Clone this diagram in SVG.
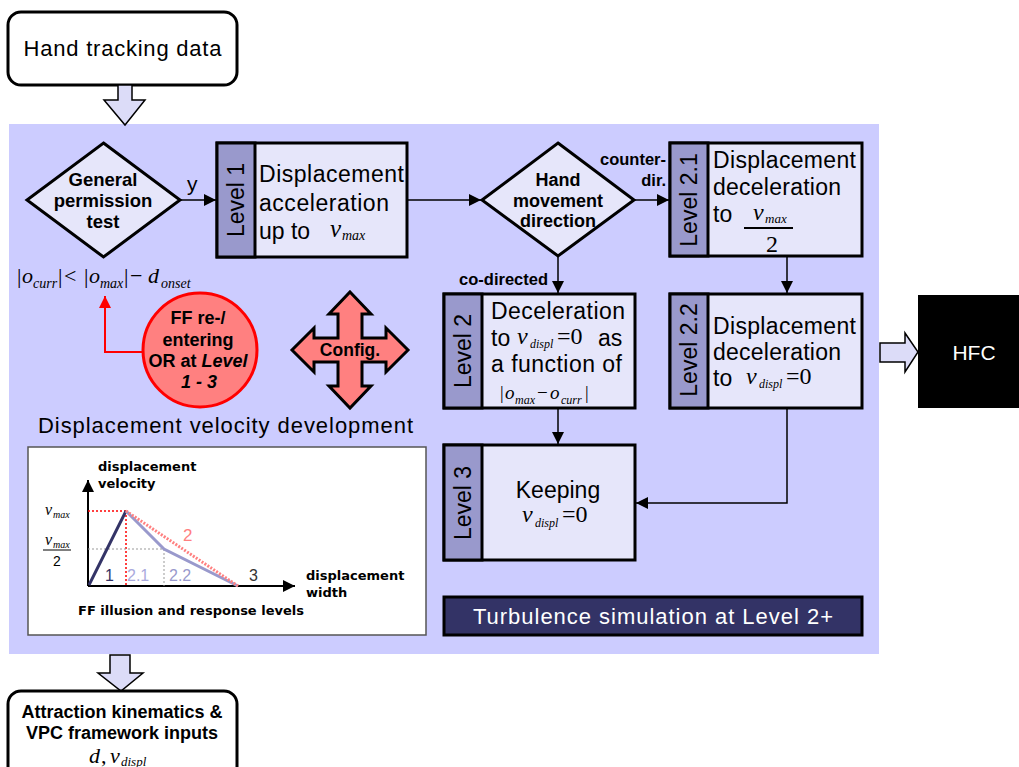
<svg xmlns="http://www.w3.org/2000/svg" width="1019" height="767" viewBox="0 0 1019 767">
<style>
.sans{font-family:"Liberation Sans",Arial,sans-serif;fill:#000}
.b{font-weight:bold}
.m{font-family:"Liberation Serif","Times New Roman",serif;font-style:italic;fill:#000}
.mu{font-family:"Liberation Serif","Times New Roman",serif;font-style:normal;fill:#000}
.box{fill:#e6e6fa;stroke:#000;stroke-width:3}
.side{fill:#9999cc;stroke:#000;stroke-width:3}
.conn{fill:none;stroke:#000;stroke-width:1.5}
.hollow{fill:#dcdcf8;stroke:#000;stroke-width:1.5}
.vv{font-family:"DejaVu Sans",Verdana,sans-serif;font-weight:bold;font-size:13px;fill:#000}
.w{fill:#fff}
</style>
<defs>
<marker id="ah" viewBox="0 0 10 10" refX="10" refY="5" markerWidth="14" markerHeight="12" markerUnits="userSpaceOnUse" orient="auto"><path d="M0,0 L10,5 L0,10 z" fill="#000"/></marker>
<marker id="ahr" viewBox="0 0 10 10" refX="10" refY="5" markerWidth="16" markerHeight="12" markerUnits="userSpaceOnUse" orient="auto"><path d="M0,0 L10,5 L0,10 z" fill="#ff0000"/></marker>
</defs>
<rect width="1019" height="767" fill="#fff"/>
<rect id="panel" x="9" y="124" width="870" height="530" fill="#ccccff"/>

<g id="handtracking">
<rect x="8" y="12" width="229" height="73" rx="13" fill="#fff" stroke="#000" stroke-width="3"/>
<text class="sans" x="122.5" y="56" font-size="22" text-anchor="middle" textLength="198">Hand tracking data</text>
</g>
<g id="arrow-in">
<path class="hollow" d="M118,85 H132 V100 H145 L125,125 L104,100 H118 Z"/>
</g>

<g id="permission">
<polygon class="box" points="103.5,143 180,200 103.5,257 27,200"/>
<text class="sans b" font-size="18.5" text-anchor="middle"><tspan x="103" y="186">General</tspan><tspan x="103" y="207">permission</tspan><tspan x="103" y="228">test</tspan></text>
</g>
<g id="onset-condition">
<text class="mu" font-size="22" x="17" y="283">|</text>
<text class="m" font-size="22" x="22" y="283">o</text>
<text class="m" font-size="14" x="33" y="288">curr</text>
<text class="mu" font-size="22" x="58" y="283">|</text>
<text class="mu" font-size="22" x="64" y="283">&lt;</text>
<text class="mu" font-size="22" x="84" y="283">|</text>
<text class="m" font-size="22" x="89" y="283">o</text>
<text class="m" font-size="14" x="100" y="288">max</text>
<text class="mu" font-size="22" x="124" y="283">|</text>
<text class="mu" font-size="22" x="130" y="283">−</text>
<text class="m" font-size="22" x="148" y="283">d</text>
<text class="m" font-size="14" x="161" y="288">onset</text>
</g>

<g id="level1">
<rect class="box" x="217" y="143" width="190" height="114"/>
<rect class="side" x="217" y="143" width="38" height="114"/>
<text class="sans" font-size="23" transform="translate(244,200) rotate(-90)" text-anchor="middle">Level 1</text>
<text class="sans" font-size="23" x="259" y="182" textLength="145">Displacement</text>
<text class="sans" font-size="23" x="259" y="211" textLength="130">acceleration</text>
<text class="sans" font-size="23" x="259" y="239">up to</text>
<text class="m" font-size="25" x="330" y="237">v</text>
<text class="m" font-size="14" x="342" y="240">max</text>
</g>

<g id="handdir">
<polygon class="box" points="558,143 634,200 558,256 482,200"/>
<text class="sans b" font-size="18" text-anchor="middle"><tspan x="558" y="186">Hand</tspan><tspan x="558" y="207">movement</tspan><tspan x="558" y="227">direction</tspan></text>
</g>

<g id="level21">
<rect class="box" x="670" y="143" width="192" height="113"/>
<rect class="side" x="670" y="143" width="38" height="113"/>
<text class="sans" font-size="23" transform="translate(697,200) rotate(-90)" text-anchor="middle">Level 2.1</text>
<text class="sans" font-size="23" x="713" y="168" textLength="143">Displacement</text>
<text class="sans" font-size="23" x="713" y="195" textLength="128">deceleration</text>
<text class="sans" font-size="23" x="713" y="222">to</text>
<text class="m" font-size="24" x="753" y="220">v</text>
<text class="m" font-size="13" x="765" y="223">max</text>
<line x1="744" y1="228" x2="793" y2="228" stroke="#000" stroke-width="2"/>
<text class="mu" font-size="24" x="772" y="252" text-anchor="middle">2</text>
</g>

<g id="level2">
<rect class="box" x="444" y="294" width="191" height="114"/>
<rect class="side" x="444" y="294" width="38" height="114"/>
<text class="sans" font-size="23" transform="translate(471,351) rotate(-90)" text-anchor="middle">Level 2</text>
<text class="sans" font-size="23" x="491" y="319" textLength="134">Deceleration</text>
<text class="sans" font-size="23" x="491" y="346">to</text>
<text class="m" font-size="24" x="517" y="344">v</text>
<text class="m" font-size="12" x="530" y="348">displ</text>
<text class="mu" font-size="24" x="557" y="344">=0</text>
<text class="sans" font-size="23" x="598" y="346">as</text>
<text class="sans" font-size="23" x="491" y="372" textLength="131">a function of</text>
<text class="mu" font-size="18" x="500" y="399">|</text>
<text class="m" font-size="19" x="505" y="399">o</text>
<text class="m" font-size="12" x="515" y="404">max</text>
<text class="mu" font-size="19" x="537" y="399">−</text>
<text class="m" font-size="19" x="550" y="399">o</text>
<text class="m" font-size="12" x="561" y="404">curr</text>
<text class="mu" font-size="18" x="585" y="399">|</text>
</g>

<g id="level22">
<rect class="box" x="670" y="294" width="192" height="114"/>
<rect class="side" x="670" y="294" width="38" height="114"/>
<text class="sans" font-size="23" transform="translate(697,350) rotate(-90)" text-anchor="middle">Level 2.2</text>
<text class="sans" font-size="23" x="713" y="334" textLength="143">Displacement</text>
<text class="sans" font-size="23" x="713" y="360" textLength="128">deceleration</text>
<text class="sans" font-size="23" x="713" y="386">to</text>
<text class="m" font-size="24" x="746" y="384">v</text>
<text class="m" font-size="12" x="759" y="388">displ</text>
<text class="mu" font-size="24" x="786" y="384">=0</text>
</g>

<g id="level3">
<rect class="box" x="444" y="445" width="191" height="115"/>
<rect class="side" x="444" y="445" width="38" height="115"/>
<text class="sans" font-size="23" transform="translate(471,503) rotate(-90)" text-anchor="middle">Level 3</text>
<text class="sans" font-size="23" x="558" y="498" text-anchor="middle">Keeping</text>
<text class="m" font-size="24" x="522" y="522">v</text>
<text class="m" font-size="12" x="535" y="527">displ</text>
<text class="mu" font-size="24" x="562" y="522">=0</text>
</g>

<g id="turbulence">
<rect x="444" y="597" width="418" height="38" fill="#333366" stroke="#000" stroke-width="3"/>
<text class="sans w" font-size="22" x="653" y="624" text-anchor="middle" textLength="360">Turbulence simulation at Level 2+</text>
</g>

<g id="hfc">
<rect x="918" y="295" width="101" height="113" fill="#000"/>
<text class="sans w" font-size="21" x="974" y="360" text-anchor="middle">HFC</text>
</g>
<g id="arrow-hfc">
<path class="hollow" d="M880,343 H905 V333 L918,352 L905,372 V362 H880 Z"/>
</g>

<g id="ffcircle">
<circle cx="200" cy="350" r="57" fill="#ff8080" stroke="#ff0000" stroke-width="3"/>
<text class="sans b" font-size="18" text-anchor="middle"><tspan x="198" y="324">FF re-/</tspan><tspan x="198" y="346">entering</tspan><tspan x="198" y="367">OR at <tspan font-style="italic">Level</tspan></tspan><tspan x="199" y="388" font-style="italic">1 - 3</tspan></text>
</g>

<g id="config">
<polygon fill="#ff8080" stroke="#000" stroke-width="3" stroke-linejoin="miter" points="350,292 371,314 362,314 362,338 386,338 386,328 408,350 386,372 386,362 362,362 362,386 371,386 350,408 329,386 338,386 338,362 314,362 314,372 292,350 314,328 314,338 338,338 338,314 329,314"/>
<text class="sans b" font-size="17.5" x="350" y="356" text-anchor="middle">Config.</text>
</g>

<text class="sans" font-size="22" x="38" y="433" textLength="375">Displacement velocity development</text>

<g id="chart">
<rect x="28" y="447" width="398" height="188" fill="#fff" stroke="#555" stroke-width="1.5"/>
<text class="vv" x="98" y="471">displacement</text>
<text class="vv" x="98" y="488">velocity</text>
<line x1="88" y1="586" x2="88" y2="480" stroke="#000" stroke-width="2" marker-end="url(#ah)"/>
<line x1="88" y1="586" x2="295" y2="586" stroke="#000" stroke-width="2" marker-end="url(#ah)"/>
<text class="m" font-size="16" x="45" y="515">v</text>
<text class="m" font-size="10" x="53" y="518">max</text>
<text class="m" font-size="16" x="45" y="545">v</text>
<text class="m" font-size="10" x="53" y="548">max</text>
<line x1="43" y1="550" x2="71" y2="550" stroke="#000" stroke-width="1"/>
<text class="sans" font-size="14" x="57" y="566" text-anchor="middle">2</text>
<line x1="88" y1="511" x2="126" y2="511" stroke="#ff0000" stroke-width="1.5" stroke-dasharray="2,2"/>
<line x1="126" y1="511" x2="126" y2="586" stroke="#ff0000" stroke-width="1.5" stroke-dasharray="2,2"/>
<line x1="88" y1="549" x2="164" y2="549" stroke="#999" stroke-width="1" stroke-dasharray="2,2"/>
<line x1="164" y1="549" x2="164" y2="586" stroke="#999" stroke-width="1" stroke-dasharray="2,2"/>
<line x1="89" y1="585" x2="126" y2="511" stroke="#333366" stroke-width="3"/>
<polyline points="126,511 164,549 238,586" fill="none" stroke="#9999cc" stroke-width="3"/>
<line x1="126" y1="511" x2="238" y2="586" stroke="#ff8080" stroke-width="3" stroke-dasharray="2,1.5"/>
<text class="sans" font-size="17" x="183" y="541" style="fill:#ff8080">2</text>
<text class="sans" font-size="16" x="105" y="581" style="fill:#333366">1</text>
<text class="sans" font-size="16" x="127" y="581" style="fill:#aaaadd">2.1</text>
<text class="sans" font-size="16" x="169" y="581" style="fill:#9999cc">2.2</text>
<text class="sans" font-size="16" x="249" y="581" style="fill:#333">3</text>
<text class="vv" x="306" y="580">displacement</text>
<text class="vv" x="306" y="597">width</text>
<text class="vv" x="78" y="615">FF illusion and response levels</text>
</g>

<g id="arrow-out">
<path class="hollow" d="M110,655 H130 V673 H143 L121,691 L98,673 H110 Z"/>
</g>
<g id="attraction">
<rect x="8" y="691" width="229" height="90" rx="13" fill="#fff" stroke="#000" stroke-width="3"/>
<text class="sans b" font-size="18" text-anchor="middle"><tspan x="122" y="718">Attraction kinematics &amp;</tspan><tspan x="122" y="739">VPC framework inputs</tspan></text>
<text class="m" font-size="22" x="89" y="763">d</text>
<text class="mu" font-size="22" x="101" y="763">,</text>
<text class="m" font-size="22" x="110" y="763">v</text>
<text class="m" font-size="13" x="121" y="766">displ</text>
</g>

<g id="connectors">
<line class="conn" x1="180" y1="200" x2="216" y2="200" marker-end="url(#ah)"/>
<text class="sans" font-size="21" x="187" y="191">y</text>
<line class="conn" x1="407" y1="200" x2="481" y2="200" marker-end="url(#ah)"/>
<line class="conn" x1="634" y1="200" x2="669" y2="200" marker-end="url(#ah)"/>
<text class="sans b" font-size="16.5" x="666" y="165" text-anchor="end">counter-</text>
<text class="sans b" font-size="16.5" x="666" y="186" text-anchor="end">dir.</text>
<line class="conn" x1="558" y1="256" x2="558" y2="293" marker-end="url(#ah)"/>
<text class="sans b" font-size="16.5" x="548" y="285" text-anchor="end">co-directed</text>
<line class="conn" x1="787" y1="256" x2="787" y2="293" marker-end="url(#ah)"/>
<line class="conn" x1="558" y1="408" x2="558" y2="444" marker-end="url(#ah)"/>
<polyline class="conn" points="787,408 787,503 636,503" marker-end="url(#ah)"/>
<polyline points="143,352 105,352 105,296" fill="none" stroke="#ff0000" stroke-width="2" marker-end="url(#ahr)"/>
</g>
</svg>
